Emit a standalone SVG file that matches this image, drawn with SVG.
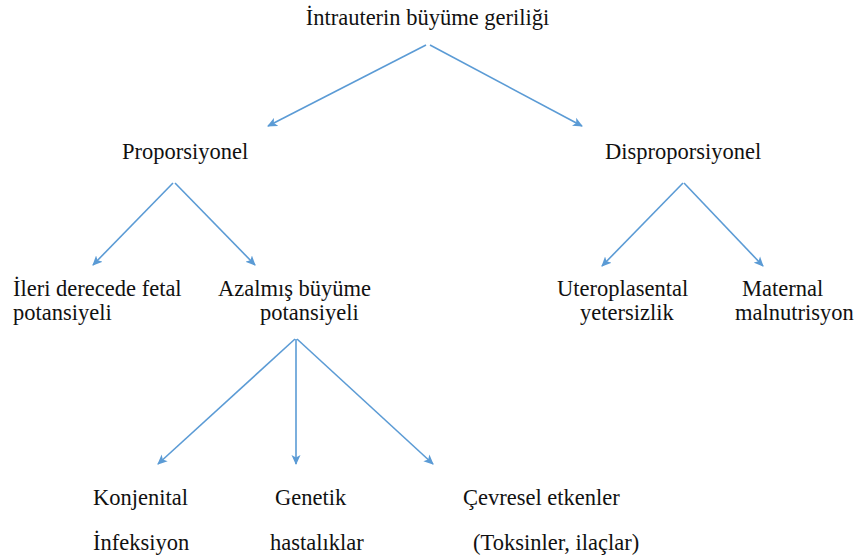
<svg xmlns="http://www.w3.org/2000/svg" width="858" height="560" viewBox="0 0 858 560">
<style>
text{font-family:"Liberation Serif","Times New Roman",serif;font-size:22.5px;fill:#111}
.c{stroke:#5B9BD5;stroke-width:1.6;fill:none;marker-end:url(#ah)}
</style>
<defs>
<marker id="ah" viewBox="0 0 10 10" refX="9" refY="5" markerWidth="10" markerHeight="10" orient="auto" markerUnits="userSpaceOnUse">
<path d="M0,0.5 L10,5 L0,9.5 L2.5,5 Z" fill="#5B9BD5"/>
</marker>
</defs>
<rect width="858" height="560" fill="#fff"/>
<g id="connectors">
<line class="c" x1="426" y1="45" x2="268" y2="126"/>
<line class="c" x1="430" y1="45" x2="582" y2="126"/>
<line class="c" x1="173" y1="183" x2="93" y2="265"/>
<line class="c" x1="175" y1="183" x2="255" y2="265"/>
<line class="c" x1="683" y1="183" x2="602" y2="266"/>
<line class="c" x1="684" y1="183" x2="763" y2="266"/>
<line class="c" x1="295" y1="339" x2="158" y2="464"/>
<line class="c" x1="296" y1="339" x2="296" y2="464"/>
<line class="c" x1="297" y1="339" x2="433" y2="464"/>
</g>
<g id="n-root"><text x="427.5" y="25" text-anchor="middle">İntrauterin büyüme geriliği</text></g>
<g id="n-prop"><text x="122" y="159">Proporsiyonel</text></g>
<g id="n-disprop"><text x="605" y="159">Disproporsiyonel</text></g>
<g id="n-ileri"><text x="13" y="296">İleri derecede fetal</text><text x="13" y="320">potansiyeli</text></g>
<g id="n-azalmis"><text x="218" y="296">Azalmış büyüme</text><text x="260" y="320">potansiyeli</text></g>
<g id="n-utero"><text x="557" y="296">Uteroplasental</text><text x="580" y="320">yetersizlik</text></g>
<g id="n-maternal"><text x="742" y="296">Maternal</text><text x="735" y="320">malnutrisyon</text></g>
<g id="n-konj"><text x="93" y="505">Konjenital</text><text x="93" y="550">İnfeksiyon</text></g>
<g id="n-genetik"><text x="275" y="505">Genetik</text><text x="270" y="550">hastalıklar</text></g>
<g id="n-cevre"><text x="463" y="505">Çevresel etkenler</text><text x="473" y="550">(Toksinler, ilaçlar)</text></g>
</svg>
